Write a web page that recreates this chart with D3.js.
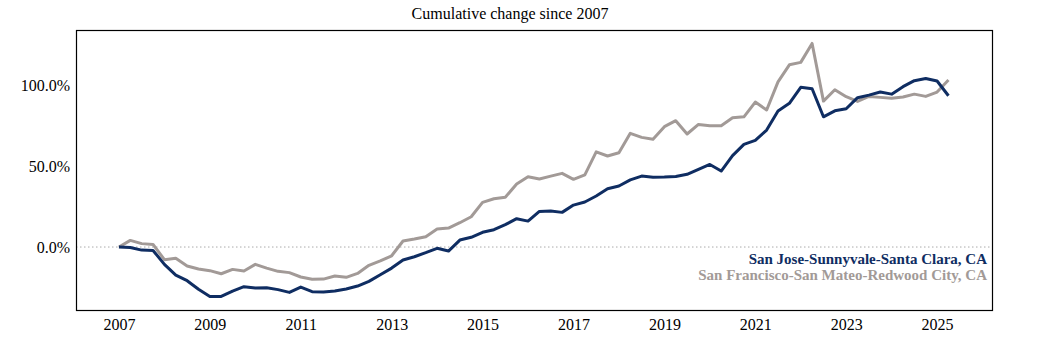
<!DOCTYPE html>
<html><head><meta charset="utf-8">
<script src="https://cdn.jsdelivr.net/npm/d3@7"></script>
<style>body{margin:0;background:#fff}svg{display:block}</style>
</head><body>
<script>
// Quarterly, 2007 Q1 .. 2025 Q2
const startYear = 2007;
const sanJose = [0,-0.3,-1.9,-2.1,-10.7,-17.3,-20.8,-26.1,-30.5,-30.5,-27.2,-24.5,-25.3,-25.1,-26.3,-28,
  -24.7,-27.6,-27.8,-27.2,-25.9,-24.1,-21.2,-17.1,-13,-8,-6,-3.5,-0.8,-2.5,4.3,6,
  9.1,10.7,13.8,17.5,16,22,22.2,21.4,25.9,27.8,31.5,36,37.7,41.5,43.8,43.1,
  43.2,43.6,44.9,48,51,46.9,56.4,63.4,65.9,72.2,84,88.7,98.6,97.7,80.4,84.1,
  85.4,92.2,93.8,95.7,94.4,99,102.7,104.1,102.5,93.4];
const sanFrancisco = [0,4.1,2.1,1.6,-7.8,-7,-11.7,-13.6,-14.6,-16.5,-13.8,-14.8,-10.7,-13,-15,-15.8,
  -18.5,-19.9,-19.8,-17.9,-18.7,-16.3,-11.3,-8.6,-5.4,3.7,4.9,6.4,11.1,11.7,15,18.7,
  27.6,29.8,30.7,38.9,43.4,42,43.8,45.5,41.8,44.6,58.8,56.2,58.2,70.2,67.7,66.5,
  74.3,78,69.8,75.7,74.9,74.9,79.8,80.4,89.5,84.6,102,112.5,114,125.7,90.1,97.1,
  92.8,89.9,93,92.4,91.8,92.6,94.4,93,95.7,103.1];
const yearTicks = [2007,2009,2011,2013,2015,2017,2019,2021,2023,2025];
const yTicks = [0,50,100];
const seriesNames = ["San Jose-Sunnyvale-Santa Clara, CA","San Francisco-San Mateo-Redwood City, CA"];
const colors = ["#0f2d62","#a29a97"];

const W = 1051, H = 353;
const m = {left:76, right:58, top:30, bottom:42};
const svg = d3.select("body").append("svg").attr("width",W).attr("height",H)
  .style("font-family","'Liberation Serif','Times New Roman',serif");

const x = d3.scaleLinear().domain([2006.055, 2026.23]).range([m.left, W-m.right]);
const y = d3.scaleLinear().domain([-39.5, 134]).range([H-m.bottom, m.top]);

const toPts = arr => arr.map((v,i)=>({t:startYear+i/4, v}));

// zero line
svg.append("line").attr("x1",x.range()[0]).attr("x2",x.range()[1])
  .attr("y1",y(0)).attr("y2",y(0))
  .attr("stroke","#aaa").attr("stroke-width",1).attr("stroke-dasharray","1.5,2.5");

const line = d3.line().x(d=>x(d.t)).y(d=>y(d.v));
[sanFrancisco, sanJose].forEach((arr,k)=>{
  const ci = k===0?1:0;
  svg.append("path").datum(toPts(arr)).attr("d",line)
    .attr("fill","none").attr("stroke",colors[ci]).attr("stroke-width",3)
    .attr("stroke-linejoin","round");
});

// frame
svg.append("rect").attr("x",m.left+0.5).attr("y",m.top+0.5)
  .attr("width",W-m.left-m.right-1).attr("height",H-m.top-m.bottom-1)
  .attr("fill","none").attr("stroke","#000").attr("stroke-width",1.2);

// axes
const xAxis = svg.append("g").attr("transform",`translate(0,${H-m.bottom})`)
  .call(d3.axisBottom(x).tickValues(yearTicks).tickFormat(d3.format("d")).tickSize(0).tickPadding(8));
xAxis.select(".domain").remove();
xAxis.selectAll("text").attr("font-size",16).attr("fill","#000").attr("font-family","'Liberation Serif',serif");

const yAxis = svg.append("g").attr("transform",`translate(${m.left},0)`)
  .call(d3.axisLeft(y).tickValues(yTicks).tickFormat(d=>d.toFixed(1)+"%").tickSize(0).tickPadding(6));
yAxis.select(".domain").remove();
yAxis.selectAll("text").attr("font-size",16).attr("fill","#000").attr("font-family","'Liberation Serif',serif");

// title
svg.append("text").attr("x",510).attr("y",19).attr("text-anchor","middle")
  .attr("font-size",16).text("Cumulative change since 2007");

// legend
seriesNames.forEach((n,i)=>{
  svg.append("text").attr("x",987).attr("y",264+i*16).attr("text-anchor","end")
    .attr("font-size",15).attr("font-weight","bold").attr("fill",colors[i]).text(n);
});
</script>
</body></html>
